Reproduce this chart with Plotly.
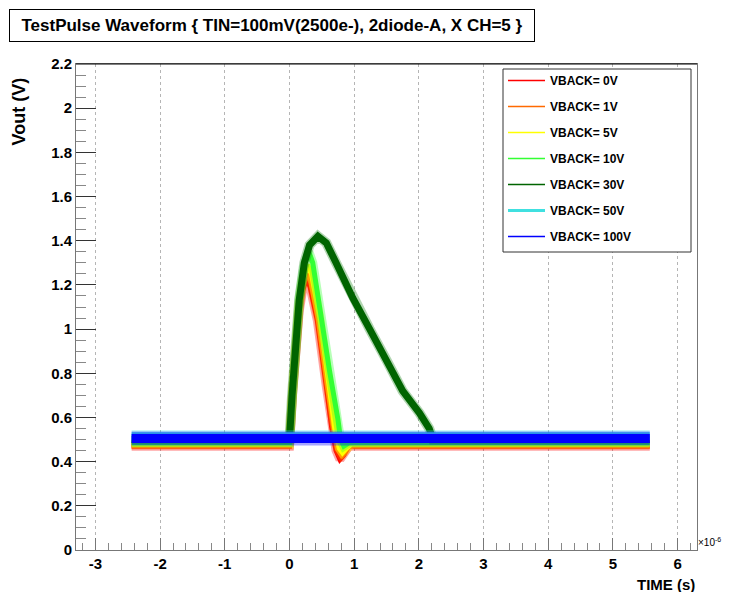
import plotly.graph_objects as go

# ---------------- data (time in microseconds, voltage in V) ----------------
SERIES_NAMES = ["VBACK= 0V", "VBACK= 1V", "VBACK= 5V", "VBACK= 10V",
                "VBACK= 30V", "VBACK= 50V", "VBACK= 100V"]

t_0v = [-2.44, 0.00, 0.05, 0.10, 0.15, 0.20, 0.26, 0.32, 0.43, 0.57, 0.65, 0.72, 0.78, 0.84, 0.92, 5.57]
v_0v = [0.47, 0.47, 0.72, 0.94, 1.08, 1.17, 1.23, 1.19, 1.04, 0.74, 0.56, 0.45, 0.41, 0.43, 0.47, 0.47]

t_1v = [-2.44, 0.00, 0.05, 0.10, 0.15, 0.20, 0.27, 0.33, 0.45, 0.59, 0.67, 0.74, 0.80, 0.86, 0.94, 5.57]
v_1v = [0.475, 0.475, 0.72, 0.95, 1.10, 1.19, 1.25, 1.21, 1.04, 0.74, 0.56, 0.46, 0.43, 0.45, 0.475, 0.475]

t_5v = [-2.44, 0.00, 0.05, 0.10, 0.15, 0.20, 0.28, 0.34, 0.47, 0.61, 0.70, 0.77, 0.82, 0.88, 0.96, 5.57]
v_5v = [0.48, 0.48, 0.72, 0.96, 1.12, 1.22, 1.29, 1.25, 1.05, 0.75, 0.55, 0.46, 0.44, 0.46, 0.48, 0.48]

t_10v = [-2.44, 0.00, 0.05, 0.10, 0.15, 0.22, 0.30, 0.36, 0.49, 0.62, 0.75, 0.79, 0.84, 0.92, 5.57]
v_10v = [0.485, 0.485, 0.73, 0.97, 1.14, 1.28, 1.35, 1.30, 1.04, 0.81, 0.59, 0.50, 0.47, 0.485, 0.485]

t_30v = [-2.44, 0.00, 0.04, 0.08, 0.15, 0.23, 0.31, 0.44, 0.57, 0.72, 0.98, 1.24, 1.50, 1.75, 2.01, 2.16, 2.22, 5.57]
v_30v = [0.50, 0.50, 0.70, 0.86, 1.13, 1.30, 1.38, 1.42, 1.39, 1.30, 1.14, 1.00, 0.86, 0.72, 0.62, 0.55, 0.50, 0.50]

t_50v = [-2.44, 5.57]
v_50v = [0.515, 0.515]

t_100v = [-2.44, 5.57]
v_100v = [0.505, 0.505]

X_TICKS = [-3, -2, -1, 0, 1, 2, 3, 4, 5, 6]
X_TICK_LABELS = ["-3", "-2", "-1", "0", "1", "2", "3", "4", "5", "6"]
Y_TICKS = [0, 0.2, 0.4, 0.6, 0.8, 1.0, 1.2, 1.4, 1.6, 1.8, 2.0, 2.2]
Y_TICK_LABELS = ["0", "0.2", "0.4", "0.6", "0.8", "1", "1.2", "1.4", "1.6", "1.8", "2", "2.2"]

TITLE = "TestPulse Waveform { TIN=100mV(2500e-), 2diode-A, X CH=5 }"

# ---------------- styling ----------------
COLORS = ["#ff0000", "#ff6a00", "#ffff00", "#33ff33", "#006400", "#40e0e0", "#0000ff"]
HALO_COLORS = ["#ff0000", "#ff6a00", "#ffff00", "#33ff33", "#1f8a1f", "#40e0e0", "#0000ff"]
CORE_W = [5, 5, 5, 5, 7, 8, 9]
HALO_W = [9, 9, 9, 9, 10, 12, 14]
HALO_OP = [0.35, 0.35, 0.35, 0.35, 0.35, 0.35, 0.35]
LEG_W = [1.5, 1.5, 1.5, 1.5, 1.5, 3, 1.5]

TIMES = [t_0v, t_1v, t_5v, t_10v, t_30v, t_50v, t_100v]
VALUES = [v_0v, v_1v, v_5v, v_10v, v_30v, v_50v, v_100v]

FONT = "Liberation Sans, Arial, sans-serif"

fig = go.Figure()
for i, name in enumerate(SERIES_NAMES):
    fig.add_trace(go.Scatter(x=TIMES[i], y=VALUES[i], mode="lines",
                             line=dict(color=HALO_COLORS[i], width=HALO_W[i]),
                             opacity=HALO_OP[i], showlegend=False, hoverinfo="skip"))
    fig.add_trace(go.Scatter(x=TIMES[i], y=VALUES[i], mode="lines",
                             line=dict(color=COLORS[i], width=CORE_W[i]),
                             showlegend=False, hoverinfo="skip"))
# legend entries (thin samples like the reference)
for i, name in enumerate(SERIES_NAMES):
    fig.add_trace(go.Scatter(x=[None], y=[None], mode="lines", name=name,
                             legendgroup=name,
                             line=dict(color=COLORS[i], width=LEG_W[i])))

# page has an 8px body margin; plot area in page pixels: left 76, right 697, top 64, bottom 550
OFF = 8
L, R, T, B = 76, 697, 64, 550
W, H = R - L, B - T
FIG_W, FIG_H = 730 - 2 * OFF, 600 - 2 * OFF   # no page overflow


def px(x):
    return (x - L) / W


def py(y):
    return (B - y) / H


fig.update_layout(
    width=FIG_W, height=FIG_H,
    margin=dict(l=L - OFF, r=FIG_W - (R - OFF), t=T - OFF, b=FIG_H - (B - OFF)),
    paper_bgcolor="white", plot_bgcolor="white",
    hovermode=False,
    font=dict(family=FONT, color="black"),
    legend=dict(x=px(503), y=py(66), xanchor="left", yanchor="top",
                bgcolor="rgba(0,0,0,0)", borderwidth=0,
                font=dict(family=FONT, size=12, color="black", weight="bold"),
                tracegroupgap=7, itemwidth=37),
    shapes=[
        dict(type="rect", xref="paper", yref="paper",
             x0=px(503), x1=px(691), y0=py(252), y1=py(69),
             line=dict(color="#333333", width=1), fillcolor="white", layer="above"),
        dict(type="line", xref="paper", yref="paper", x0=0, x1=1, y0=1, y1=1,
             line=dict(color="black", width=1), layer="above"),
    ],
    annotations=[
        dict(text="<b>" + TITLE + "</b>", xref="paper", yref="paper",
             x=px(272), y=py(25), xanchor="center", yanchor="middle",
             showarrow=False, width=522, height=29, borderpad=1, bgcolor="white",
             bordercolor="black", borderwidth=1,
             font=dict(family=FONT, size=17, color="black")),
        dict(text="<b>Vout (V)</b>", xref="paper", yref="paper",
             x=px(18.5), y=py(112), xanchor="center", yanchor="middle",
             textangle=-90, showarrow=False,
             font=dict(family=FONT, size=18, color="black")),
        dict(text="<b>TIME (s)</b>", xref="paper", yref="paper",
             x=1, y=py(584), xanchor="right", yanchor="middle", showarrow=False,
             font=dict(family=FONT, size=15, color="black")),
        dict(text="×10<sup>-6</sup>", xref="paper", yref="paper",
             x=px(721.5), y=py(542), xanchor="right", yanchor="middle", showarrow=False,
             borderpad=0,
             font=dict(family=FONT, size=10, color="black")),
    ],
)

fig.update_xaxes(
    range=[-3.3, 6.3], tickmode="array", tickvals=X_TICKS, ticktext=X_TICK_LABELS,
    ticks="inside", ticklen=12, tickcolor="#777777",
    minor=dict(tickmode="linear", tick0=0, dtick=0.2, ticks="inside", ticklen=7,
               tickcolor="#888888", showgrid=False),
    showgrid=True, gridcolor="#b5b5b5", griddash="dot", gridwidth=1,
    zeroline=False, showline=True, mirror=True, linecolor="#777777", linewidth=1,
    tickfont=dict(family=FONT, size=15, color="black", weight="bold"),
)
fig.update_yaxes(
    range=[0, 2.2], tickmode="array", tickvals=Y_TICKS, ticktext=Y_TICK_LABELS,
    ticks="inside", ticklen=20, tickcolor="#333333",
    minor=dict(tickmode="linear", tick0=0, dtick=0.05, ticks="inside", ticklen=10,
               tickcolor="#888888", showgrid=False),
    showgrid=False, zeroline=False, showline=True, mirror=True,
    linecolor="#777777", linewidth=1,
    tickfont=dict(family=FONT, size=15, color="black", weight="bold"),
)

fig.write_html("out.html", config={"displayModeBar": False})
